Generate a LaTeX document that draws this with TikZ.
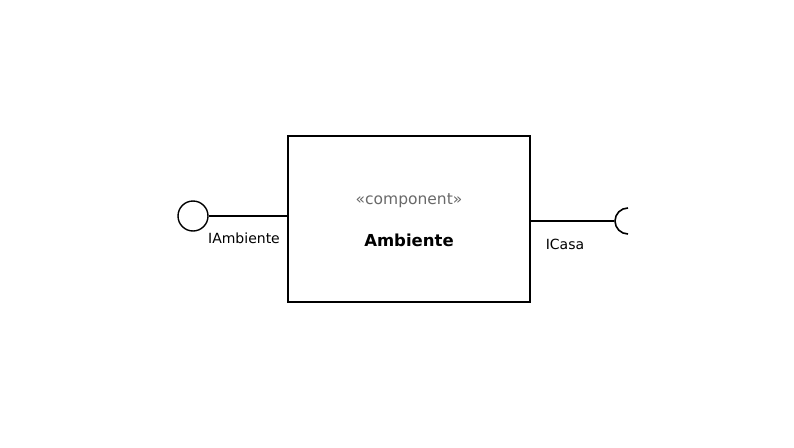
\documentclass[tikz,border=0pt]{standalone}
\usepackage{fontspec}
\setmainfont{DejaVu Sans}
\newcommand\compstereostyle{\fontsize{15.5}{18}\selectfont}
\newcommand\compnamestyle{\fontsize{16.5}{20}\selectfont\bfseries}
\newcommand\complabelstyle{\fontsize{14}{17}\selectfont}
\definecolor{stereogray}{RGB}{105,105,105}
\tikzset{
  compbox/.style={draw, line width=1.6pt, minimum width=242pt, minimum height=166pt, inner sep=0pt},
  iface/.style={line width=1.6pt},
  lollipop/.style={draw, circle, line width=1.4pt, minimum size=30pt, inner sep=0pt},
}

\begin{document}
\begin{tikzpicture}[x=1pt, y=-1pt]
    \useasboundingbox (0, 0) rectangle (794, 447) ;
    % component
    \node[compbox] (comp) at (409, 219) {} ;
    \node[text=stereogray] (stereo) at (409, 201) {\compstereostyle «component»} ;
    \node (name) at (409, 240) {\compnamestyle Ambiente} ;
    % provided interface
    \node[lollipop] (prov) at (193, 216) {} ;
    \draw[iface] (prov.east) -- (prov.east -| comp.west) ;
    \node (provlabel) at (244, 238) {\complabelstyle IAmbiente} ;
    % required interface
    \coordinate (sock) at (614, 221) ;
    \coordinate (socktop) at (628, 208) ;
    \draw[iface] (sock -| comp.east) -- (sock) ;
    \draw[iface] (socktop) arc[start angle=90, end angle=270, radius=13pt] ;
    \node (reqlabel) at (565, 244) {\complabelstyle ICasa} ;
\end{tikzpicture}
\end{document}
